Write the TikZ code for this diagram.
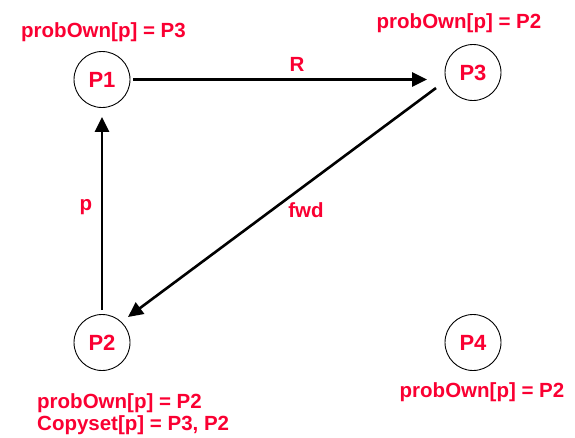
\documentclass[tikz,border=0pt]{standalone}
\usepackage{fontspec}
\setmainfont{Liberation Sans}
\usetikzlibrary{arrows.meta}
\definecolor{lblred}{RGB}{250,0,50}
\begin{document}
\begin{tikzpicture}[x=1pt,y=-1pt,
  proc/.style={circle,draw=black,line width=0.9pt,minimum size=56pt,inner sep=0pt,
    text=lblred,font=\fontsize{22}{24}\selectfont\bfseries},
  lbl/.style={text=lblred,font=\fontsize{20.5}{22}\selectfont\bfseries,inner sep=0pt,anchor=base},
  arr/.style={line width=2.6pt,-{Triangle[length=15pt,width=14pt]}}]
\useasboundingbox (0,0) rectangle (575,437);

% processes
\node[proc] (P1) at (102,79.5) {P1};
\node[proc] (P3) at (473,72.5) {P3};
\node[proc] (P2) at (102,342.5) {P2};
\node[proc] (P4) at (473,342.5) {P4};

% messages
\draw[arr,shorten <=3pt,shorten >=17.5pt] (P1.east) -- (P1.east -| P3.west);
\draw[arr] ([shift={(-37pt,-15.5pt)}]P3.center) -- ([shift={(26pt,25.5pt)}]P2.center);
\draw[arr,shorten <=4pt,shorten >=9pt] (P2.north) -- (P1.south);

% message labels
\node[lbl] (lR) at (297,71) {R};
\node[lbl] (lfwd) at (306,217) {fwd};
\node[lbl] (lp) at (86,210) {p};

% per-process state
\node[lbl] (s1) at (103.5,37) {probOwn[p] = P3};
\node[lbl] (s3) at (459,28) {probOwn[p] = P2};
\node[lbl] (s4) at (482,397) {probOwn[p] = P2};
\node[lbl,anchor=base west] (s2a) at (37,408) {probOwn[p] = P2};
\node[lbl,anchor=base west] (s2b) at (37,430) {Copyset[p] = P3, P2};
\end{tikzpicture}
\end{document}
